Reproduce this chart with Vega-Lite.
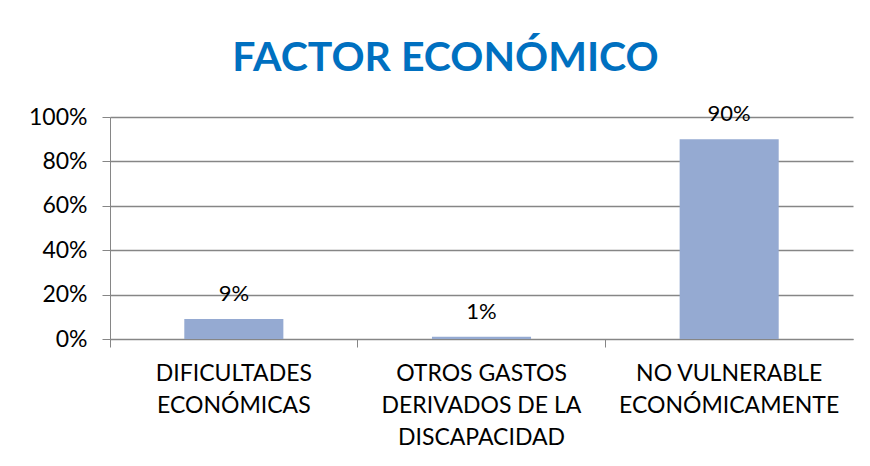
{
  "$schema": "https://vega.github.io/schema/vega-lite/v6.json",
  "width": 743,
  "height": 222,
  "autosize": {"type": "none"},
  "padding": {"left": 110, "top": 117, "right": 17, "bottom": 127},
  "background": "white",
  "config": {"view": {"stroke": null}, "font": "Lato"},
  "title": {
    "text": "FACTOR ECONÓMICO",
    "font": "Lato",
    "fontSize": 41,
    "fontWeight": "bold",
    "color": "#0070C0",
    "anchor": "middle",
    "offset": 23,
    "dx": -36
  },
  "data": {
    "values": [
      {"categoria": "DIFICULTADES ECONÓMICAS", "valor": 0.09},
      {"categoria": "OTROS GASTOS DERIVADOS DE LA DISCAPACIDAD", "valor": 0.01},
      {"categoria": "NO VULNERABLE ECONÓMICAMENTE", "valor": 0.90}
    ]
  },
  "encoding": {
    "x": {
      "field": "categoria",
      "type": "nominal",
      "sort": null,
      "scale": {"paddingInner": 0.6, "paddingOuter": 0.3},
      "axis": {
        "title": null,
        "labelAngle": 0,
        "labelFontSize": 23,
        "labelColor": "black",
        "labelPadding": 15,
        "labelLineHeight": 32,
        "labelLimit": 0,
        "bandPosition": -0.75,
        "tickSize": 8,
        "tickColor": "#868686",
        "domainColor": "#868686",
        "labelExpr": "datum.value == 'DIFICULTADES ECONÓMICAS' ? ['DIFICULTADES', 'ECONÓMICAS'] : datum.value == 'OTROS GASTOS DERIVADOS DE LA DISCAPACIDAD' ? ['OTROS GASTOS', 'DERIVADOS DE LA', 'DISCAPACIDAD'] : ['NO VULNERABLE', 'ECONÓMICAMENTE']"
      }
    },
    "y": {
      "field": "valor",
      "type": "quantitative",
      "scale": {"domain": [0, 1]},
      "axis": {
        "title": null,
        "format": ".0%",
        "values": [0, 0.2, 0.4, 0.6, 0.8, 1],
        "labelFontSize": 23,
        "labelColor": "black",
        "labelPadding": 15,
        "tickSize": 8,
        "tickColor": "#868686",
        "domainColor": "#868686",
        "gridColor": "#868686",
        "gridWidth": 1.5
      }
    }
  },
  "layer": [
    {"mark": {"type": "bar", "color": "#95AAD2"}},
    {
      "mark": {"type": "text", "fontSize": 22, "dy": -13, "baseline": "bottom", "color": "black"},
      "encoding": {"text": {"field": "valor", "type": "quantitative", "format": ".0%"}}
    }
  ]
}
